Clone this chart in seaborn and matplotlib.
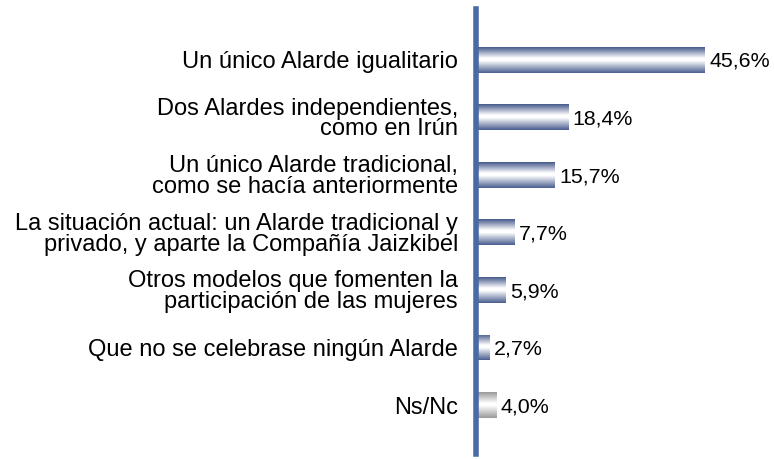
import matplotlib.pyplot as plt
import numpy as np
import pandas as pd
import seaborn as sns
from matplotlib.colors import LinearSegmentedColormap

categories = [
    "Un único Alarde igualitario",
    "Dos Alardes independientes,\ncomo en Irún",
    "Un único Alarde tradicional,\ncomo se hacía anteriormente",
    "La situación actual: un Alarde tradicional y\nprivado, y aparte la Compañía Jaizkibel",
    "Otros modelos que fomenten la\nparticipación de las mujeres",
    "Que no se celebrase ningún Alarde",
    "Ns/Nc",
]
values = [45.6, 18.4, 15.7, 7.7, 5.9, 2.7, 4.0]
value_labels = ["45,6%", "18,4%", "15,7%", "7,7%", "5,9%", "2,7%", "4,0%"]

sns.set_style("white")
plt.rcParams["font.family"] = ["Liberation Sans", "DejaVu Sans"]

df = pd.DataFrame({"cat": categories, "val": values})

fig = plt.figure(figsize=(7.74, 4.59), dpi=100)
ax = fig.add_axes([476 / 774, 5 / 459, 291 / 774, 445 / 459])

sns.barplot(data=df, x="val", y="cat", ax=ax, width=0.45, color="#536a9a",
            orient="h")

blue_cmap = LinearSegmentedColormap.from_list(
    "bl", [(0, "#465a8c"), (0.42, "#ffffff"), (0.52, "#ffffff"), (1, "#4a5e90")])
grey_cmap = LinearSegmentedColormap.from_list(
    "gr", [(0, "#9a9a9a"), (0.42, "#ffffff"), (0.52, "#ffffff"), (1, "#9a9a9a")])
grad = np.linspace(0, 1, 100).reshape(-1, 1)

for i, p in enumerate(ax.patches):
    x0, y0 = p.get_x(), p.get_y()
    w, h = p.get_width(), p.get_height()
    cmap = grey_cmap if i == len(values) - 1 else blue_cmap
    im = ax.imshow(grad, extent=[x0, x0 + w, y0 + h, y0], aspect="auto",
                   cmap=cmap, zorder=2)
    im.set_clip_path(p)
    p.set_facecolor("none")
    p.set_edgecolor("none")
    ax.text(x0 + w + 0.9, y0 + h / 2 + 0.03, value_labels[i], va="center",
            ha="left", fontsize=15.4, color="black")

ax.set_xlim(0, 58)
ax.set_ylim(6.85, -0.88)
ax.set_xlabel("")
ax.set_ylabel("")
ax.set_xticks([])
ax.tick_params(axis="y", length=0, pad=13, labelsize=17, labelcolor="black")
for lab in ax.get_yticklabels():
    lab.set_horizontalalignment("right")
    lab.set_multialignment("right")
    lab.set_linespacing(0.92)
for s in ["top", "right", "bottom"]:
    ax.spines[s].set_visible(False)
ax.spines["left"].set_color("#4a6aa5")
ax.spines["left"].set_linewidth(4)

fig.savefig("out.png", dpi=100)
